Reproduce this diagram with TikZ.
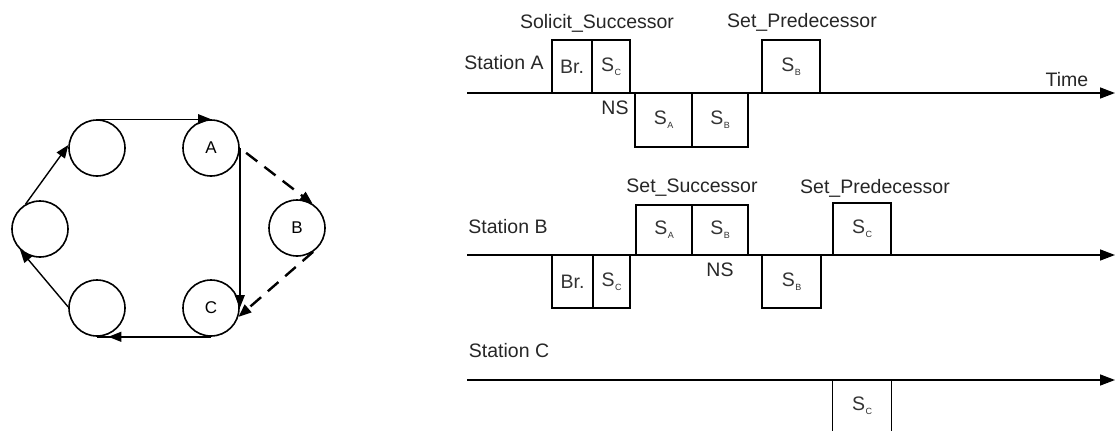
\documentclass[tikz,border=0pt]{standalone}
\usepackage{fontspec}
\setmainfont{Liberation Sans}
\usetikzlibrary{arrows.meta,decorations.markings}
\newcommand{\Ssub}[1]{S\kern0.5pt\raisebox{-4pt}{\fontsize{9}{9}\selectfont #1}}
\begin{document}
\begin{tikzpicture}[x=1pt,y=-1pt,
  lbl/.style={font=\fontsize{19.5}{22}\selectfont, text=black!85, inner sep=0},
  tbox/.style={draw, line width=1.3pt, inner sep=0, font=\fontsize{19.5}{22}\selectfont, text=black!80},
  stn/.style={draw, circle, minimum size=56pt, inner sep=0, line width=1.6pt, font=\fontsize{17}{18}\selectfont},
  tline/.style={line width=1.5pt, -{Triangle[length=15pt,width=11pt]}},
  ring/.style={line width=1.4pt, -{Triangle[length=13pt,width=10pt]}},
  dsh/.style={line width=2.4pt, dash pattern=on 14pt off 9pt, -{Triangle[length=13pt,width=10pt]}}
]
\path[use as bounding box] (0,0) rectangle (1119,431);

% ---------------- ring diagram ----------------
\node[stn] (n1) at (97,148) {};
\node[stn] (A)  at (211,148) {A};
\node[stn] (n2) at (40,229) {};
\node[stn] (B)  at (297,228) {B};
\node[stn] (n3) at (97,308) {};
\node[stn] (C)  at (211,308) {C};

\draw[ring] (n1.north) -- (A.north);
\draw[ring] (A.east) -- (C.east);
\draw[line width=1.4pt, postaction={decorate},
  decoration={markings, mark=at position 0.9 with {\arrow{Triangle[length=13pt,width=10pt]}}}]
  (C.south) -- (n3.south);
\draw[ring] (n3.178) -- (n2.226);
\draw[ring] (n2.120) -- (n1.174);
\draw[dsh, shorten <=8pt] (A.east) -- (B.57);
\draw[dsh] (B.304) -- (C.342);

% ---------------- Station A ----------------
\node[lbl] (sa) at (504,63) {Station A};
\coordinate (a0) at (467,93);
\coordinate (a1) at (1115,93);
\draw[tline] (a0) -- (a1);
\node[lbl] (tm) at (1067,80) {Time};
\node[lbl] (ss) at (597,23) {Solicit\_Successor};
\node[lbl] (spa) at (802,22) {Set\_Predecessor};
\node[tbox, minimum width=40pt, minimum height=53pt] (abr) at (572,66.5) {Br.};
\node[tbox, minimum width=38pt, minimum height=53pt] (asc) at (611,66.5) {\Ssub{C}};
\node[lbl] (ans) at (615,108) {NS};
\node[tbox, minimum width=57pt, minimum height=54pt] (asa) at (663.5,120) {\Ssub{A}};
\node[tbox, minimum width=56pt, minimum height=54pt] (asb) at (720,120) {\Ssub{B}};
\node[tbox, minimum width=58pt, minimum height=53pt] (asb2) at (791,66.5) {\Ssub{B}};

% ---------------- Station B ----------------
\node[lbl] (sb) at (508,227) {Station B};
\coordinate (b0) at (467,255);
\coordinate (b1) at (1115,255);
\draw[tline] (b0) -- (b1);
\node[lbl] (sss) at (692,188) {Set\_Successor};
\node[lbl] (spb) at (875,188) {Set\_Predecessor};
\node[tbox, minimum width=56pt, minimum height=50pt] (bsa) at (664,230) {\Ssub{A}};
\node[tbox, minimum width=56pt, minimum height=50pt] (bsb) at (720,230) {\Ssub{B}};
\node[lbl] (bns) at (720,270) {NS};
\node[tbox, minimum width=41pt, minimum height=53pt] (bbr) at (572.5,281.5) {Br.};
\node[tbox, minimum width=37pt, minimum height=53pt] (bsc) at (611.5,281.5) {\Ssub{C}};
\node[tbox, minimum width=59pt, minimum height=53pt] (bsb2) at (791.5,281.5) {\Ssub{B}};
\node[tbox, minimum width=58pt, minimum height=52pt] (bsc2) at (862,229) {\Ssub{C}};

% ---------------- Station C ----------------
\node[lbl] (sc) at (509,351) {Station C};
\coordinate (c0) at (467,380);
\coordinate (c1) at (1115,380);
\draw[tline] (c0) -- (c1);
\node[inner sep=0, minimum width=58pt, minimum height=52pt, font=\fontsize{19.5}{22}\selectfont, text=black!80] (csc) at (862,406) {\Ssub{C}};
\draw[line width=1.3pt] (csc.north west) -- (csc.south west);
\draw[line width=1.3pt] (csc.north east) -- (csc.south east);
\end{tikzpicture}
\end{document}
